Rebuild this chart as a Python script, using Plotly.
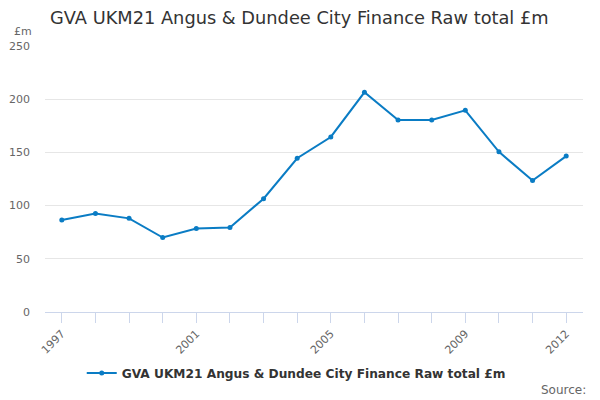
import plotly.graph_objects as go

# Data
years = list(range(1997, 2013))
gva_finance = [86.5, 92.5, 88, 70, 78.5, 79.5, 106.5, 144.5, 164.5, 206.5, 180.5, 180.5, 189.5, 150.5, 123.5, 146.5]
x_labels = {1997: "1997", 2001: "2001", 2005: "2005", 2009: "2009", 2012: "2012"}
series_name = "GVA UKM21 Angus & Dundee City Finance Raw total £m"

font = "DejaVu Sans"

fig = go.Figure()
fig.add_trace(go.Scatter(
    x=years, y=gva_finance,
    mode="lines+markers",
    name="<b>" + series_name + "</b>",
    line=dict(color="#0a7cc4", width=2),
    marker=dict(size=5, color="#0a7cc4"),
))

# page body has an 8px margin, so the figure is sized 592x392
fig.update_layout(
    width=592, height=392,
    paper_bgcolor="white", plot_bgcolor="white",
    margin=dict(l=37, r=17, t=38, b=88, autoexpand=False),
    font=dict(family=font, color="#666666", size=11),
    title=dict(text=series_name, x=0.071, xanchor="left", y=0.9745, yanchor="middle",
               font=dict(size=17.8, color="#333333", family=font)),
    showlegend=True,
    legend=dict(orientation="h", x=0.467, xanchor="center",
                y=-0.229, yanchor="middle",
                font=dict(size=12.2, color="#333333", family=font)),
)

fig.update_xaxes(
    range=[1996.5, 2012.5],
    tickvals=years,
    ticktext=[x_labels.get(y, "") for y in years],
    tickangle=-45,
    ticks="outside", ticklen=10, tickcolor="#ccd6eb",
    showline=True, linecolor="#ccd6eb", linewidth=1,
    showgrid=False, zeroline=False,
    tickfont=dict(size=11, color="#666666"),
)
fig.update_yaxes(
    range=[0, 250],
    tickvals=[0, 50, 100, 150, 200, 250],
    showgrid=True, gridcolor="#e6e6e6", gridwidth=1,
    zeroline=False, showline=False,
    tickfont=dict(size=11, color="#666666"),
    ticklabelstandoff=14,
)

fig.add_annotation(text="£m", xref="paper", yref="paper", x=-0.061, y=1.053,
                   xanchor="left", yanchor="middle", showarrow=False,
                   font=dict(size=11, color="#666666", family=font))
fig.add_annotation(text="Source:", xref="paper", yref="paper", x=1.009, y=-0.293,
                   xanchor="right", yanchor="middle", showarrow=False,
                   font=dict(size=12, color="#666666", family=font))

fig.write_html("out.html")
